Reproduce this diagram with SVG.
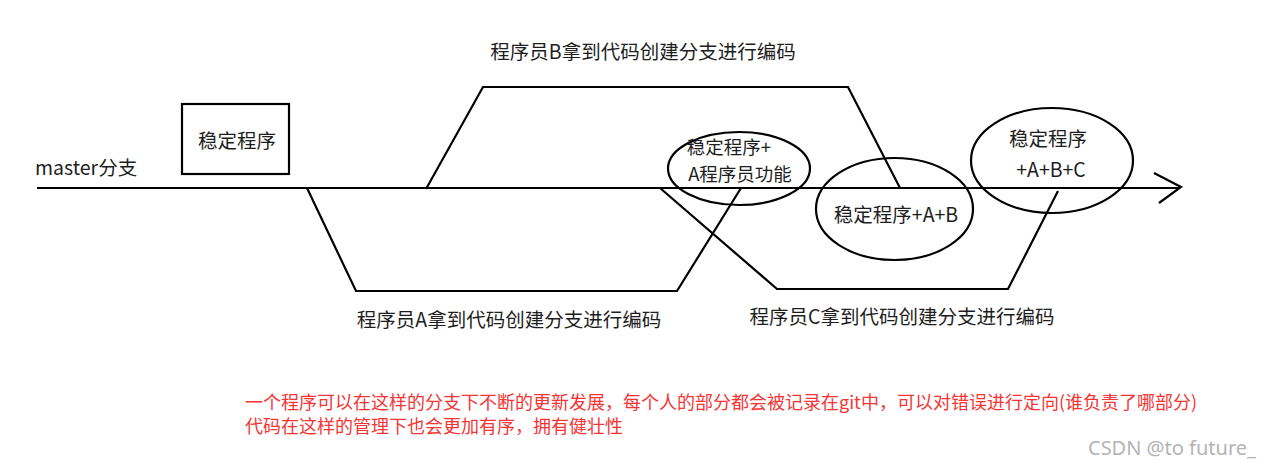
<svg xmlns="http://www.w3.org/2000/svg" width="1284" height="470" viewBox="0 0 1284 470">
<style>
.ln{fill:none;stroke:#000;stroke-width:2.2;stroke-linejoin:miter;stroke-linecap:butt}
.t{font-family:"Noto Sans CJK SC","Microsoft YaHei",sans-serif;font-size:19.5px;fill:#1e1e1e;dominant-baseline:central;text-anchor:middle}
.s{font-size:18.5px}
.r{font-family:"Noto Sans CJK SC",sans-serif;font-size:18px;fill:#f53535;dominant-baseline:central}
.w{font-family:"Noto Sans",sans-serif;font-size:20px;fill:#b4b4b4;dominant-baseline:central}
</style>
<rect width="1284" height="470" fill="#fff"/>
<g id="connectors">
<path class="ln" d="M37,188 H1180"/>
<path class="ln" d="M1154,173 L1181,187 L1159,203"/>
<path id="branchB" class="ln" d="M426,189 L483,87 H848 L900,188"/>
<path id="branchA" class="ln" d="M307,188 L356,291 H677 L741,188"/>
<path id="branchC" class="ln" d="M660,188 L777,289 H1008 L1058,191"/>
</g>
<g id="master-label"><text class="t" x="35" y="166" style="text-anchor:start">master分支</text></g>
<g id="stable">
<rect x="182" y="104" width="107" height="70" fill="none" stroke="#000" stroke-width="2.2"/>
<text class="t" x="237" y="139">稳定程序</text>
</g>
<g id="labelB"><text class="t" x="643" y="50">程序员B拿到代码创建分支进行编码</text></g>
<g id="labelA"><text class="t" x="509" y="318">程序员A拿到代码创建分支进行编码</text></g>
<g id="labelC"><text class="t" x="902" y="315">程序员C拿到代码创建分支进行编码</text></g>
<g id="nodeA">
<ellipse cx="739" cy="168.5" rx="71" ry="36.5" fill="none" stroke="#000" stroke-width="2.2"/>
<text class="t s" x="729" y="146">稳定程序+</text>
<text class="t s" x="740" y="173">A程序员功能</text>
</g>
<g id="nodeAB">
<ellipse cx="894.5" cy="209" rx="78.5" ry="51" fill="none" stroke="#000" stroke-width="2.2"/>
<text class="t" x="896" y="213">稳定程序+A+B</text>
</g>
<g id="nodeABC">
<ellipse cx="1052" cy="160.5" rx="81" ry="52.5" fill="none" stroke="#000" stroke-width="2.2"/>
<text class="t" x="1048" y="137">稳定程序</text>
<text class="t" x="1051" y="168">+A+B+C</text>
</g>
<g id="note">
<text class="r" x="245" y="401">一个程序可以在这样的分支下不断的更新发展，每个人的部分都会被记录在git中，可以对错误进行定向(谁负责了哪部分)</text>
<text class="r" x="245" y="425">代码在这样的管理下也会更加有序，拥有健壮性</text>
</g>
<g id="watermark"><text class="w" x="1088" y="447">CSDN @to future_</text></g>
</svg>
